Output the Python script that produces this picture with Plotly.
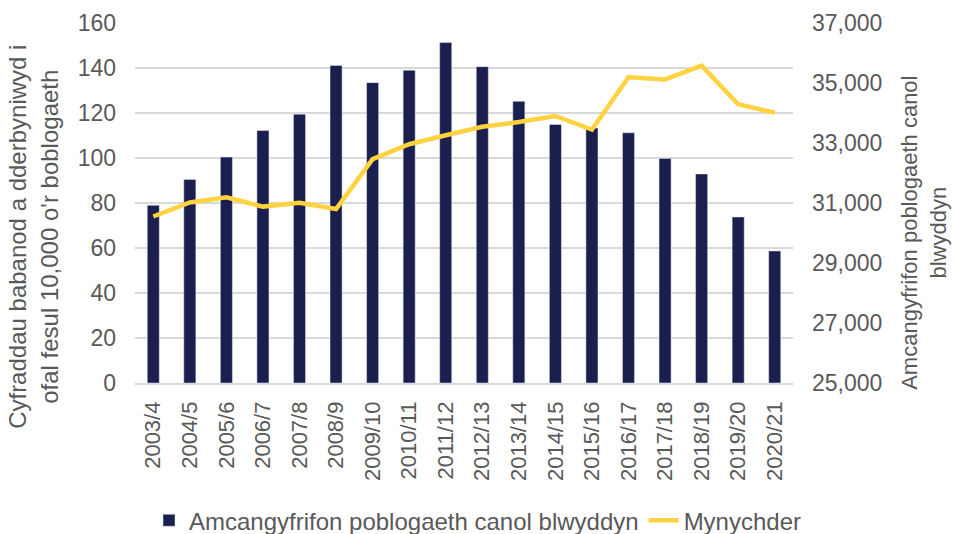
import plotly.graph_objects as go

NAVY = "#1A1F4E"
GOLD = "#FFD23F"
INK = "#595959"
GRID = "#D9D9D9"
FONT = "Liberation Sans, Arial, sans-serif"

years = ["2003/4", "2004/5", "2005/6", "2006/7", "2007/8", "2008/9", "2009/10",
         "2010/11", "2011/12", "2012/13", "2013/14", "2014/15", "2015/16",
         "2016/17", "2017/18", "2018/19", "2019/20", "2020/21"]
bar_values = [79, 90.5, 100.4, 112.2, 119.5, 141.1, 133.5, 139, 151.3, 140.6,
              125.2, 114.9, 113.3, 111.2, 99.8, 92.9, 73.8, 58.7]
line_values = [30550, 31020, 31190, 30880, 31010, 30800, 32460, 32960, 33260,
               33540, 33700, 33900, 33450, 35190, 35120, 35580, 34290, 34010]

left_title = "Cyfraddau babanod a dderbyniwyd i<br>ofal fesul 10,000 o'r boblogaeth"
right_title = "Amcangyfrifon poblogaeth canol<br>blwyddyn"

fig = go.Figure()
fig.add_trace(go.Bar(
    x=years, y=bar_values, name="Amcangyfrifon poblogaeth canol blwyddyn",
    marker=dict(color=NAVY), width=0.33,
))
fig.add_trace(go.Scatter(
    x=years, y=line_values, name="Mynychder", yaxis="y2",
    mode="lines", line=dict(color=GOLD, width=4.5),
))

fig.update_layout(
    width=956, height=534,
    font=dict(family=FONT, size=22, color=INK),
    paper_bgcolor="white", plot_bgcolor="white",
    margin=dict(l=135, r=163, t=23, b=151, autoexpand=False),
    legend=dict(orientation="h", xref="container", yref="container",
                x=0.5, xanchor="center", y=0.025, yanchor="middle",
                font=dict(size=24, color=INK), traceorder="normal"),
    xaxis=dict(tickangle=-90, tickfont=dict(size=22), showgrid=False,
               showline=True, linecolor=GRID, linewidth=1.5, ticks="",
               ticklabelstandoff=8, automargin=False),
    yaxis=dict(range=[0, 160], dtick=20, gridcolor=GRID, gridwidth=1.5,
               zeroline=False, tickfont=dict(size=23), ticklabelstandoff=18,
               automargin=False),
    yaxis2=dict(range=[25000, 37000], tick0=25000, dtick=2000, overlaying="y",
                side="right", showgrid=False, zeroline=False, tickformat=",",
                tickfont=dict(size=23), ticklabelstandoff=18, automargin=False),
)

# axis titles sit a little below the plot centre, as in the original
fig.add_annotation(text=left_title, xref="paper", yref="paper", x=-0.154, y=0.405,
                   xanchor="center", yanchor="middle", textangle=-90,
                   showarrow=False, font=dict(size=24, color=INK))
fig.add_annotation(text=right_title, xref="paper", yref="paper", x=1.199, y=0.417,
                   xanchor="center", yanchor="middle", textangle=-90,
                   showarrow=False, font=dict(size=22, color=INK))

fig.write_html("out.html", config={"displayModeBar": False},
               post_script="document.body.style.margin='0';")
